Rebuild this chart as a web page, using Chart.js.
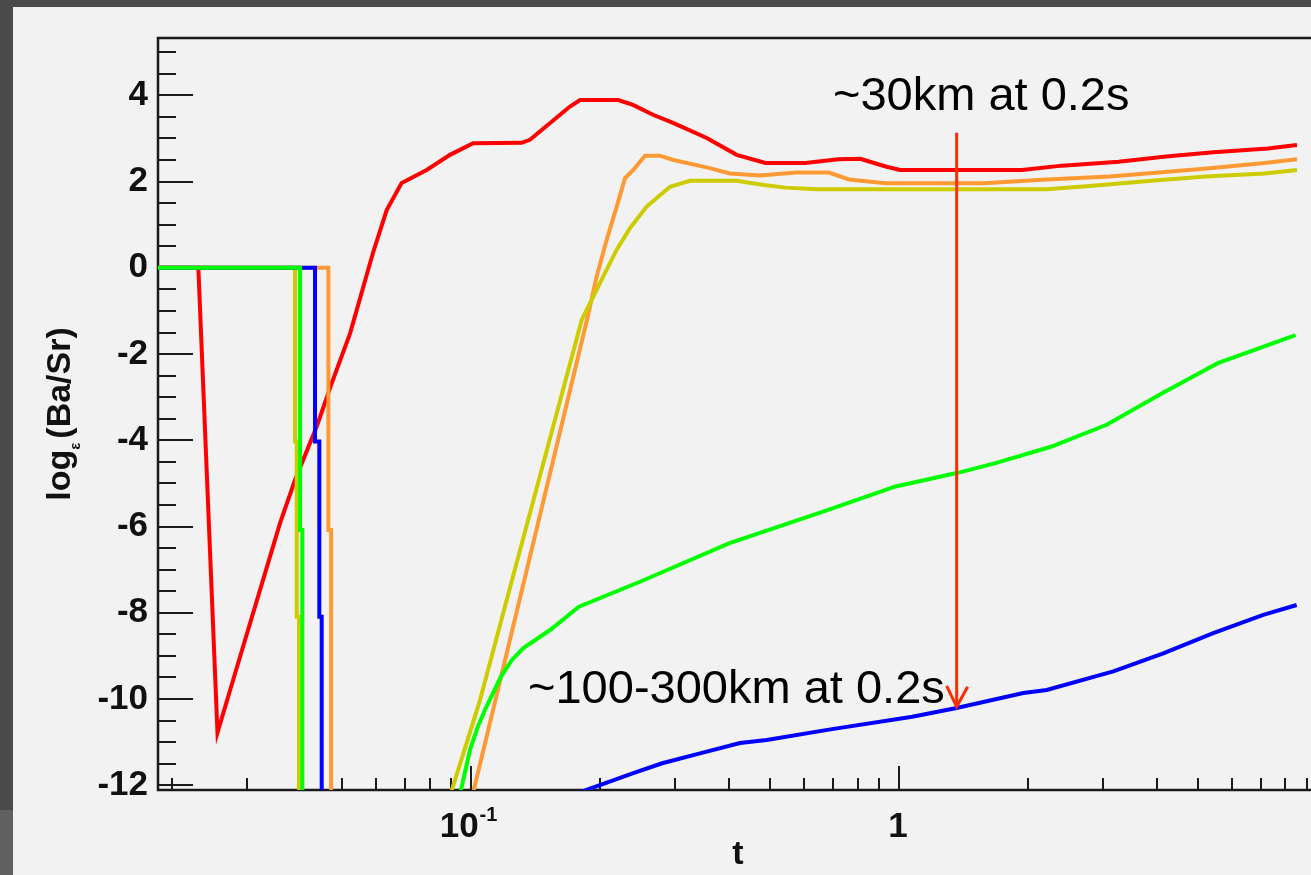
<!DOCTYPE html>
<html>
<head>
<meta charset="utf-8">
<title>log(Ba/Sr) vs t</title>
<style>
  html, body { margin: 0; padding: 0; width: 1311px; height: 875px; overflow: hidden; background: #4a4a4a; }
  #panel { position: absolute; left: 13px; top: 7px; width: 1298px; height: 868px; background: #f2f2f2; }
  #edge { position: absolute; left: 0; top: 810px; width: 13px; height: 65px; background: #606060; }
  #chart { position: absolute; left: 0; top: 0; }
</style>
<script src="https://cdn.jsdelivr.net/npm/chart.js@4/dist/chart.umd.min.js"></script>
</head>
<body>
<div id="panel"></div>
<div id="edge"></div>
<canvas id="chart" width="1330" height="875"></canvas>
<script>
(() => {
  'use strict'

  // time (s) and log_eps(Ba/Sr) for each run; null breaks the line
  const redT = [0.018, 0.02306, 0.02556, 0.02886, 0.03214, 0.03579, 0.03879, 0.0436, 0.04725, 0.05217, 0.05902,
    0.06353, 0.06886, 0.07878, 0.0893, 0.1011, 0.1313, 0.1373, 0.1703, 0.1798, 0.2207, 0.239, 0.2662, 0.2965,
    0.3554, 0.4176, 0.4875, 0.6045, 0.7211, 0.8115, 0.9309, 1.006, 1.939, 2.403, 3.262, 4.206, 5.427, 7.28, 8.511]
  const redV = [0, 0, -10.78, -9.02, -7.47, -5.92, -4.92, -3.68, -2.68, -1.52, 0.35,
    1.34, 1.97, 2.27, 2.62, 2.89, 2.9, 2.97, 3.74, 3.89, 3.89, 3.78, 3.55, 3.36,
    3.01, 2.62, 2.43, 2.43, 2.52, 2.53, 2.35, 2.27, 2.27, 2.37, 2.46, 2.58, 2.68, 2.77, 2.85]

  const orangeT = [0.018, 0.04642, 0.04642, 0.0471, 0.0471, 0.07, 0.1005, 0.1175, 0.1866, 0.1966, 0.2075,
    0.219, 0.229, 0.2394, 0.255, 0.2764, 0.297, 0.3554, 0.4028, 0.4734, 0.5757, 0.6862, 0.7641, 0.9309,
    1.58, 2.159, 3.105, 4.046, 5.323, 7.141, 8.511]
  const orangeV = [0, 0, -6.08, -6.08, -12.4, null, -12.29, -9.49, -1.21, -0.2, 0.65,
    1.42, 2.08, 2.27, 2.6, 2.6, 2.5, 2.33, 2.19, 2.14, 2.21, 2.21, 2.05, 1.96,
    1.96, 2.04, 2.12, 2.21, 2.31, 2.43, 2.52]

  const yellowT = [0.018, 0.03879, 0.03879, 0.03915, 0.03915, 0.03963, 0.03963, 0.06, 0.08905, 0.105, 0.1212,
    0.1814, 0.2037, 0.219, 0.2352, 0.2573, 0.2917, 0.3248, 0.4176, 0.4829, 0.543, 0.6415,
    2.206, 2.789, 3.89, 5.215, 7.141, 8.511]
  const yellowV = [0, 0, -4.03, -4.03, -8.09, -8.09, -12.4, null, -12.29, -10.02, -7.7,
    -1.21, -0.2, 0.42, 0.92, 1.42, 1.88, 2.02, 2.02, 1.92, 1.86, 1.82,
    1.82, 1.9, 2.02, 2.12, 2.19, 2.27]

  const greenT = [0.018, 0.03986, 0.03986, 0.04035, 0.04035, 0.07, 0.09385, 0.09947, 0.1034, 0.1078, 0.1175,
    0.1245, 0.1325, 0.153, 0.1787, 0.2482, 0.4005, 0.6859, 0.9819, 1.364, 1.681, 2.265, 3.057, 4.121, 5.557, 8.447]
  const greenV = [0, 0, -6.08, -6.08, -12.4, null, -12.29, -11.18, -10.68, -10.25, -9.48,
    -9.1, -8.82, -8.4, -7.86, -7.28, -6.39, -5.61, -5.07, -4.76, -4.53, -4.15, -3.64, -2.91, -2.21, -1.56]

  const blueT = [0.018, 0.0432, 0.0432, 0.04421, 0.04421, 0.04478, 0.04478, 0.1, 0.1654, 0.2394, 0.2797,
    0.3428, 0.4251, 0.4907, 0.6859, 1.074, 1.364, 1.952, 2.214, 3.168, 4.145, 5.424, 7.1, 8.497]
  const blueV = [0, 0, -4.03, -4.03, -8.09, -8.09, -12.4, null, -12.29, -11.72, -11.49,
    -11.26, -11.02, -10.95, -10.71, -10.41, -10.21, -9.86, -9.79, -9.36, -8.94, -8.47, -8.05, -7.82]

  const yTicks = [-12, -10, -8, -6, -4, -2, 0, 2, 4]
  const xLabels = [0.1, 1]

  const FONT = "'Liberation Sans', Arial, Helvetica, sans-serif"
  const pts = (t, v) => t.map((x, i) => ({ x, y: v[i] }))
  const series = (data, color) => ({
    data,
    borderColor: color,
    backgroundColor: color,
    borderWidth: 4,
    pointRadius: 0,
    tension: 0,
    spanGaps: false
  })

  const line = (ctx, x1, y1, x2, y2) => {
    ctx.beginPath()
    ctx.moveTo(x1, y1)
    ctx.lineTo(x2, y2)
    ctx.stroke()
  }

  // ROOT-like frame with inward ticks
  const frame = {
    id: 'frame',
    beforeDatasetsDraw (chart) {
      const { ctx, chartArea: a, scales: { x, y } } = chart
      ctx.save()
      ctx.strokeStyle = '#1a1a1a'
      ctx.lineWidth = 2.5
      ctx.strokeRect(a.left, a.top, a.right - a.left, a.bottom - a.top)
      ctx.lineWidth = 2
      for (let k = -24; k <= 10; k++) {
        const py = Math.round(y.getPixelForValue(k / 2))
        line(ctx, a.left, py, a.left + (k % 4 === 0 ? 35 : 18), py)
      }
      for (const d of [0.01, 0.1, 1]) {
        for (let k = 1; k <= 9; k++) {
          const t = k * d
          if (t < x.min || t > x.max) continue
          const px = Math.round(x.getPixelForValue(t))
          line(ctx, px, a.bottom, px, a.bottom - (k === 1 ? 24 : 12))
        }
      }
      ctx.restore()
    },
    afterDatasetsDraw (chart) {
      const { ctx, chartArea: a, scales: { x, y } } = chart
      ctx.save()
      ctx.fillStyle = '#111'
      ctx.textBaseline = 'alphabetic'

      // x tick labels
      for (const t of xLabels) {
        const px = x.getPixelForValue(t)
        if (t === 1) {
          ctx.font = `bold 35px ${FONT}`
          ctx.textAlign = 'center'
          ctx.fillText('1', px - 1, 837)
        } else {
          ctx.textAlign = 'left'
          ctx.font = `bold 35px ${FONT}`
          const w1 = ctx.measureText('10').width
          ctx.font = `bold 20px ${FONT}`
          const w2 = ctx.measureText('-1').width
          const x0 = px - (w1 + w2) / 2 - 3
          ctx.font = `bold 35px ${FONT}`
          ctx.fillText('10', x0, 837)
          ctx.font = `bold 20px ${FONT}`
          ctx.fillText('-1', x0 + w1 + 1, 821)
        }
      }

      // axis titles
      ctx.font = `bold 34px ${FONT}`
      ctx.textAlign = 'center'
      ctx.fillText('t', (a.left + a.right) / 2, 864)

      ctx.save()
      ctx.translate(70, (a.top + a.bottom) / 2)
      ctx.rotate(-Math.PI / 2)
      ctx.textAlign = 'left'
      ctx.font = `bold 34px ${FONT}`
      const wLog = ctx.measureText('log').width
      const wPar = ctx.measureText('(Ba/Sr)').width
      ctx.font = `bold 15px ${FONT}`
      const wEps = ctx.measureText('\u03b5').width
      const total = wLog + wEps + 4 + wPar
      let cx = -total / 2
      ctx.font = `bold 34px ${FONT}`
      ctx.fillText('log', cx, 0)
      cx += wLog
      ctx.font = `bold 15px ${FONT}`
      ctx.fillText('\u03b5', cx, 10)
      cx += wEps + 4
      ctx.font = `bold 34px ${FONT}`
      ctx.fillText('(Ba/Sr)', cx, 0)
      ctx.restore()

      // annotations
      ctx.fillStyle = '#000'
      ctx.textAlign = 'left'
      ctx.font = `47px ${FONT}`
      ctx.fillText('~30km at 0.2s', x.getPixelForValue(0.701), y.getPixelForValue(3.66))
      ctx.fillText('~100-300km at 0.2s', x.getPixelForValue(0.1359), y.getPixelForValue(-10.09))

      const ax = x.getPixelForValue(1.364)
      const top = y.getPixelForValue(3.13)
      const tip = y.getPixelForValue(-10.18)
      ctx.strokeStyle = '#ff2a00'
      ctx.lineWidth = 3
      line(ctx, ax, top, ax, tip)
      ctx.beginPath()
      ctx.moveTo(ax - 10, tip - 21)
      ctx.lineTo(ax, tip)
      ctx.lineTo(ax + 11, tip - 20)
      ctx.stroke()
      ctx.restore()
    }
  }

  const ctx = document.getElementById('chart')
  // eslint-disable-next-line no-unused-vars
  const chart = new Chart(ctx, {
    type: 'line',
    data: {
      datasets: [
        series(pts(greenT, greenV), '#00ff00'),
        series(pts(blueT, blueV), '#0000ff'),
        series(pts(yellowT, yellowV), '#cccc00'),
        series(pts(orangeT, orangeV), '#ff9933'),
        series(pts(redT, redV), '#ff0000')
      ]
    },
    options: {
      responsive: false,
      animation: false,
      devicePixelRatio: 1,
      layout: { padding: { left: 0, top: 38, right: 12, bottom: 0 } },
      plugins: {
        legend: { display: false },
        tooltip: { enabled: false }
      },
      scales: {
        x: {
          type: 'logarithmic',
          min: 0.01856,
          max: 9.53,
          grid: { display: false, drawTicks: false },
          border: { display: false },
          ticks: { display: false },
          afterFit: (s) => { s.height = 85 }
        },
        y: {
          type: 'linear',
          min: -12.11,
          max: 5.33,
          grid: { display: false, drawTicks: false },
          border: { display: false },
          ticks: {
            padding: 10,
            color: '#111',
            font: { family: FONT, size: 35, weight: 'bold' },
            callback: (v) => String(v)
          },
          afterBuildTicks: (s) => { s.ticks = yTicks.map((value) => ({ value })) },
          afterFit: (s) => { s.width = 158 }
        }
      }
    },
    plugins: [frame]
  })
})()
</script>
</body>
</html>
